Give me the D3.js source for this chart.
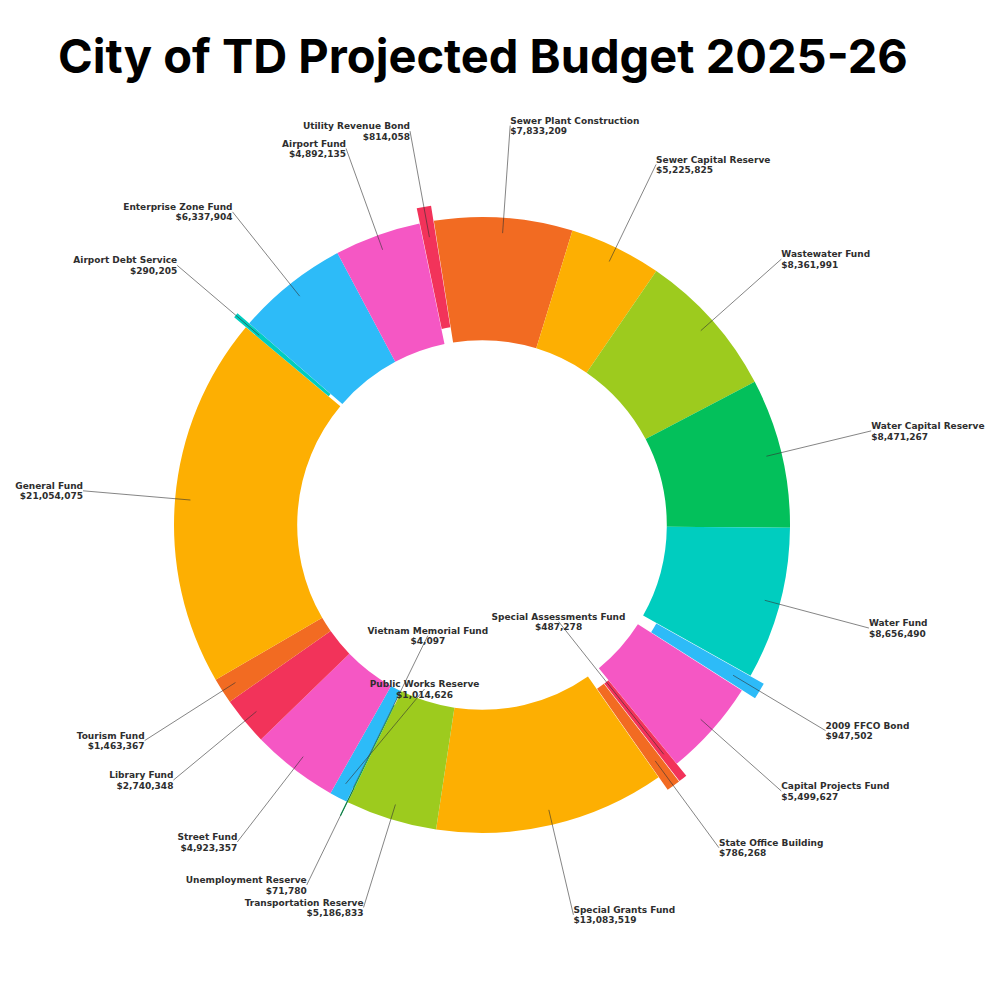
<!DOCTYPE html>
<html>
<head>
<meta charset="utf-8">
<script src="https://cdn.jsdelivr.net/npm/d3@7"></script>
<style>
  body { margin: 0; background: #fff; }
  svg { display: block; }
</style>
</head>
<body>
<svg id="chart"></svg>
<script>
// budget by fund, in the order they go round the ring (clockwise)
var categories = [
  "Sewer Plant Construction", "Sewer Capital Reserve", "Wastewater Fund",
  "Water Capital Reserve", "Water Fund", "2009 FFCO Bond", "Capital Projects Fund",
  "Special Assessments Fund", "State Office Building", "Special Grants Fund",
  "Transportation Reserve", "Unemployment Reserve", "Vietnam Memorial Fund",
  "Public Works Reserve", "Street Fund", "Library Fund", "Tourism Fund",
  "General Fund", "Airport Debt Service", "Enterprise Zone Fund", "Airport Fund",
  "Utility Revenue Bond"
]
var values = [
  7833209, 5225825, 8361991,
  8471267, 8656490, 947502, 5499627,
  487278, 786268, 13083519,
  5186833, 71780, 4097,
  1014626, 4923357, 2740348, 1463367,
  21054075, 290205, 6337904, 4892135,
  814058
]
var title = "City of TD Projected Budget 2025-26"

// colours, same order as categories
var sliceColors = [
  "#f26b22", "#fdaf02", "#9dcb1e",
  "#03c05b", "#00cdbf", "#2dbbf8", "#f557c4",
  "#f2335a", "#f26b22", "#fdaf02",
  "#9dcb1e", "#03c05b", "#00cdbf",
  "#2dbbf8", "#f557c4", "#f2335a", "#f26b22",
  "#fdaf02", "#00cdbf", "#2dbbf8", "#f557c4",
  "#f2335a"
]

// labels that sit inside the hole instead of outside the ring
var insideLabels = {
  "Vietnam Memorial Fund": 0,
  "Public Works Reserve": 55,
  "Special Assessments Fund": 0
}

var drawChart = function()
{
  var screen = {width: 1000, height: 1000}
  var cx = 482, cy = 525
  var R = 308
  var inner = R * 0.6
  var deg = Math.PI / 180

  var svg = d3.select("#chart")
              .attr("width", screen.width)
              .attr("height", screen.height)

  // title, sized to span the width it has in the picture
  var t = svg.append("text")
             .attr("x", 58)
             .attr("y", 73)
             .attr("font-family", "Inter, 'Open Sans', sans-serif")
             .attr("font-weight", 700)
             .attr("font-size", 50)
             .attr("fill", "#000")
             .text(title)
  var tw = t.node().getComputedTextLength()
  t.attr("font-size", 50 * 850 / tw)

  var data = categories.map(function(c, i){ return {name: c, value: values[i]} })

  var color = d3.scaleOrdinal()
                .domain(categories)
                .range(sliceColors)

  var pie = d3.pie()
              .sort(null)
              .value(function(d){ return d.value })
              .startAngle(-9 * deg)
              .endAngle(351 * deg)

  var arcs = pie(data)

  var arc = d3.arc()
              .innerRadius(inner)
              .outerRadius(R)

  var g = svg.append("g")
             .attr("transform", "translate(" + cx + "," + cy + ")")

  var pull = function(d){ return d.data.value < 1000000 ? 0.05 * R : 0 }
  var mid = function(d){ return (d.startAngle + d.endAngle) / 2 }

  g.selectAll("path.slice")
   .data(arcs)
   .enter()
   .append("path")
   .attr("class", "slice")
   .attr("d", arc)
   .attr("fill", function(d){ return color(d.data.name) })
   .attr("transform", function(d){
     var a = mid(d), p = pull(d)
     return "translate(" + (p * Math.sin(a)) + "," + (-p * Math.cos(a)) + ")"
   })

  var fmt = d3.format(",")

  var labels = arcs.map(function(d){
    var a = mid(d)
    var ax = 0.95 * R * Math.sin(a), ay = -0.95 * R * Math.cos(a)
    var lx, ly, anchor
    if (d.data.name in insideLabels) {
      lx = 0.4 * R * Math.sin(a)
      ly = -0.4 * R * Math.cos(a) + insideLabels[d.data.name]
      anchor = "middle"
    } else {
      lx = 1.3 * R * Math.sin(a)
      ly = -1.3 * R * Math.cos(a)
      anchor = Math.sin(a) >= 0 ? "start" : "end"
    }
    return {name: d.data.name, value: d.data.value, ax: ax, ay: ay, lx: lx, ly: ly, anchor: anchor}
  })

  var txt = g.selectAll("text.lbl")
             .data(labels)
             .enter()
             .append("text")
             .attr("class", "lbl")
             .attr("text-anchor", function(d){ return d.anchor })
             .attr("font-family", "'DejaVu Sans', sans-serif")
             .attr("font-weight", "bold")
             .attr("font-size", 9)
             .attr("fill", "#2e2e2e")

  txt.append("tspan")
     .attr("x", function(d){ return d.lx })
     .attr("y", function(d){ return d.ly - 1.9 })
     .text(function(d){ return d.name })

  txt.append("tspan")
     .attr("x", function(d){ return d.lx })
     .attr("y", function(d){ return d.ly + 8.6 })
     .text(function(d){ return "$" + fmt(d.value) })

  g.selectAll("line.leader")
   .data(labels)
   .enter()
   .append("line")
   .attr("class", "leader")
   .attr("x1", function(d){ return d.ax })
   .attr("y1", function(d){ return d.ay })
   .attr("x2", function(d){ return d.lx })
   .attr("y2", function(d){ return d.ly })
   .attr("stroke", "#333")
   .attr("stroke-width", 0.6)
}

drawChart()
</script>
</body>
</html>
